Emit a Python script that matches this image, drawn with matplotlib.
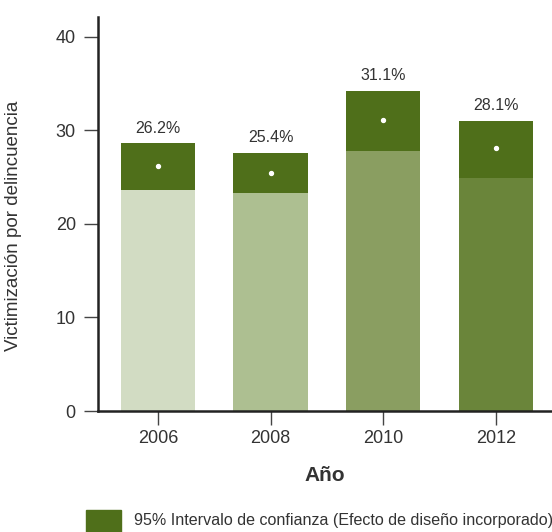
import matplotlib
matplotlib.use("Agg")
import matplotlib.pyplot as plt
from matplotlib import font_manager
from matplotlib.patches import Rectangle

names = {f.name for f in font_manager.fontManager.ttflist}
fam = ["Liberation Sans Narrow", "Liberation Sans", "DejaVu Sans"]
fam = [f for f in fam if f in names] + ["DejaVu Sans"]
plt.rcParams["font.family"] = fam

years = ["2006", "2008", "2010", "2012"]
means = [26.2, 25.4, 31.1, 28.1]
lower = [23.6, 23.3, 27.8, 24.9]
upper = [28.6, 27.6, 34.2, 31.0]
labels = ["26.2%", "25.4%", "31.1%", "28.1%"]
base_colors = ["#d2dcc3", "#adbf91", "#8a9e61", "#6a853a"]
ci_color = "#4f6f1a"
text_color = "#333333"

fig = plt.figure(figsize=(5.52, 5.32), dpi=100)
ax = fig.add_axes([98/552, 1-411/532, 1-98/552, (411-17)/532])

x = range(len(years))
w = 0.66
ax.bar(x, lower, width=w, color=base_colors, zorder=2)
ax.bar(x, [u - l for u, l in zip(upper, lower)], bottom=lower, width=w, color=ci_color, zorder=2)
ax.scatter(x, means, s=8, color="white", zorder=3)
for xi, u, lab in zip(x, upper, labels):
    ax.text(xi, u + 0.8, lab, ha="center", va="bottom", fontsize=11.5, color=text_color)

ax.set_xlim(-0.533, 3.5)
ax.set_ylim(0, 42.1)
ax.set_yticks([0, 10, 20, 30, 40])
ax.set_xticks(list(x))
ax.set_xticklabels(years)
for s in ["top", "right"]:
    ax.spines[s].set_visible(False)
for s in ["left", "bottom"]:
    ax.spines[s].set_linewidth(1.8)
    ax.spines[s].set_color("#222222")
ax.tick_params(axis="both", length=10, width=1, color="#444444", labelsize=13, labelcolor=text_color, direction="out")
ax.tick_params(axis="y", pad=6)
ax.set_ylabel("Victimización por delincuencia", fontsize=13.5, color=text_color)
ax.yaxis.set_label_coords(-0.168, 0.47)
ax.set_xlabel("Año", fontsize=15, fontweight="bold", color=text_color, labelpad=14)

fig.patches.append(Rectangle((86/552, 0), 35/552, 22/532, transform=fig.transFigure, color=ci_color, zorder=1))
fig.text(134/552, 1-521/532, "95% Intervalo de confianza (Efecto de diseño incorporado)", fontsize=11.6, color=text_color, va="center", ha="left")

fig.savefig("out.png", dpi=100)
